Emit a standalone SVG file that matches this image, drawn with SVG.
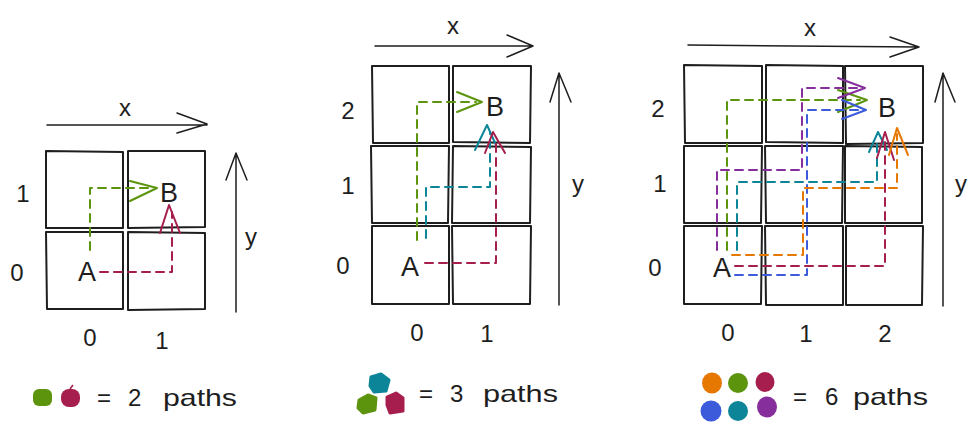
<svg xmlns="http://www.w3.org/2000/svg" width="978" height="431" viewBox="0 0 978 431">
<style>
.cell{fill:none;stroke:#1e1e1e;stroke-width:2;stroke-linejoin:round}
.ax{fill:none;stroke:#1e1e1e;stroke-width:1.5;stroke-linecap:round;stroke-linejoin:round}
.lbl{font-family:"Liberation Sans",Arial,sans-serif;font-size:24px;fill:#1e1e1e;text-anchor:middle}
.pt{font-family:"Liberation Sans",Arial,sans-serif;font-size:27px;fill:#1e1e1e;text-anchor:middle}
.leg{font-family:"Liberation Sans",Arial,sans-serif;font-size:24px;fill:#1e1e1e}
.p{fill:none;stroke-width:2;stroke-dasharray:8 6;stroke-linecap:round;stroke-linejoin:round}
.h{fill:none;stroke-width:2;stroke-linecap:round;stroke-linejoin:round}
.g{stroke:#5c940d}.r{stroke:#a61e4d}.t{stroke:#0c8599}.o{stroke:#e67700}.b{stroke:#3b5bdb}.v{stroke:#862e9c}
.blob{stroke-width:3;stroke-linejoin:round}
</style>
<rect width="978" height="431" fill="#ffffff"/>

<!-- Left grid -->
<g id="grid1">
<g id="g1-c01"><path class="cell" d="M46 151 L123 152 L123 228 L46 228 Z"/></g>
<g id="g1-c11"><path class="cell" d="M128 151 L205 151 L205 227 L128 228 Z"/></g>
<g id="g1-c00"><path class="cell" d="M46 232 L123 232 L123 309 L47 309 Z"/></g>
<g id="g1-c10"><path class="cell" d="M128 232 L205 233 L205 309 L128 310 Z"/></g>
<g id="g1-axes">
<path class="ax" d="M47 125 L207 125 M177 113 L207 124 L177 133"/>
<path class="ax" d="M236 312 L236 153 M226 180 L236 153 L247 180"/>
<text class="lbl" x="125" y="116">x</text>
<text class="lbl" x="251" y="245">y</text>
<text class="lbl" x="23" y="202">1</text>
<text class="lbl" x="17" y="281">0</text>
<text class="lbl" x="90" y="346">0</text>
<text class="lbl" x="162" y="349">1</text>
</g>
<g id="g1-A"><text class="pt" x="87" y="281">A</text></g>
<g id="g1-B"><text class="pt" x="169" y="202">B</text></g>
</g>

<!-- Middle grid -->
<g id="grid2">
<g id="g2-c02"><path class="cell" d="M372 66 L449 66 L449 143 L373 143 Z"/></g>
<g id="g2-c12"><path class="cell" d="M453 66 L531 66 L530 143 L453 142 Z"/></g>
<g id="g2-c01"><path class="cell" d="M371 146 L449 146 L448 223 L372 223 Z"/></g>
<g id="g2-c11"><path class="cell" d="M453 146 L531 147 L530 223 L452 223 Z"/></g>
<g id="g2-c00"><path class="cell" d="M372 226 L449 226 L449 304 L372 304 Z"/></g>
<g id="g2-c10"><path class="cell" d="M452 226 L531 226 L530 304 L453 304 Z"/></g>
<g id="g2-axes">
<path class="ax" d="M375 46 L533 46 M507 35 L533 46 L507 57"/>
<path class="ax" d="M559 305 L559 73 M550 102 L559 73 L571 102"/>
<text class="lbl" x="453" y="34">x</text>
<text class="lbl" x="578" y="192">y</text>
<text class="lbl" x="348" y="119">2</text>
<text class="lbl" x="348" y="194">1</text>
<text class="lbl" x="343" y="274">0</text>
<text class="lbl" x="417" y="341">0</text>
<text class="lbl" x="487" y="342">1</text>
</g>
<g id="g2-A"><text class="pt" x="410" y="276">A</text></g>
<g id="g2-B"><text class="pt" x="495" y="116">B</text></g>
</g>

<!-- Right grid -->
<g id="grid3">
<g id="g3-c02"><path class="cell" d="M684 65 L762 66 L762 143 L685 143 Z"/></g>
<g id="g3-c12"><path class="cell" d="M766 65 L843 66 L843 143 L766 142 Z"/></g>
<g id="g3-c22"><path class="cell" d="M845 66 L923 66 L923 143 L846 144 Z"/></g>
<g id="g3-c01"><path class="cell" d="M684 146 L762 146 L761 223 L684 223 Z"/></g>
<g id="g3-c11"><path class="cell" d="M765 146 L843 146 L842 223 L766 223 Z"/></g>
<g id="g3-c21"><path class="cell" d="M845 146 L922 147 L922 223 L845 223 Z"/></g>
<g id="g3-c00"><path class="cell" d="M684 226 L762 226 L761 304 L684 304 Z"/></g>
<g id="g3-c10"><path class="cell" d="M765 226 L843 226 L843 305 L766 305 Z"/></g>
<g id="g3-c20"><path class="cell" d="M846 226 L923 226 L922 305 L846 305 Z"/></g>
<g id="g3-axes">
<path class="ax" d="M688 45 L919 47 M890 37 L919 47 L890 57"/>
<path class="ax" d="M943 306 L943 73 M935 102 L943 73 L955 102"/>
<text class="lbl" x="810" y="36">x</text>
<text class="lbl" x="961" y="192">y</text>
<text class="lbl" x="658" y="117">2</text>
<text class="lbl" x="660" y="192">1</text>
<text class="lbl" x="655" y="276">0</text>
<text class="lbl" x="728" y="341">0</text>
<text class="lbl" x="806" y="342">1</text>
<text class="lbl" x="885" y="342">2</text>
</g>
<g id="g3-A"><text class="pt" x="722" y="277">A</text></g>
<g id="g3-B"><text class="pt" x="887" y="117">B</text></g>
</g>

<!-- Connectors -->
<g id="connectors">
<path class="p g" d="M90 250 L90 188 L150 188"/>
<path class="h g" d="M130 181 L157 188 L130 201"/>
<path class="p r" d="M100 272 L172 272 L172 212"/>
<path class="h r" d="M160 233 L169 205 L180 233"/>

<path class="p g" d="M417 240 L417 102 L476 102"/>
<path class="h g" d="M457 92 L482 102 L457 112"/>
<path class="p t" d="M426 238 L426 187 L490 187 L490 132"/>
<path class="h t" d="M475 150 L487 125 L496 145"/>
<path class="p r" d="M425 263 L496 263 L496 138"/>
<path class="h r" d="M485 153 L493 132 L505 153"/>

<path class="p g" d="M727 250 L727 100 L860 100"/>
<path class="h g" d="M838 90 L867 100 L838 112"/>
<path class="p v" d="M717 250 L717 170 L802 170 L802 88 L858 88"/>
<path class="h v" d="M838 78 L865 88 L838 98"/>
<path class="p b" d="M735 275 L807 275 L807 110 L860 110"/>
<path class="h b" d="M842 100 L866 110 L842 119"/>
<path class="p t" d="M737 250 L737 182 L877 182 L877 138"/>
<path class="h t" d="M869 152 L878 132 L887 150"/>
<path class="p r" d="M735 266 L885 266 L885 138"/>
<path class="h r" d="M877 158 L885 132 L894 160"/>
<path class="p o" d="M732 255 L803 255 L803 188 L897 188 L897 134"/>
<path class="h o" d="M889 155 L897 128 L908 155"/>
</g>

<!-- Legends -->
<g id="legend1">
<rect x="33" y="389" width="19" height="17" rx="6" fill="#5c940d"/>
<rect x="61" y="389" width="19" height="18" rx="8" fill="#a61e4d"/>
<path d="M70 389 L73 385" stroke="#a61e4d" stroke-width="1.5"/>
<text class="leg" x="97" y="406">=</text>
<text class="leg" x="128" y="406">2</text>
<text class="leg" x="163" y="406" textLength="74" lengthAdjust="spacingAndGlyphs">paths</text>
</g>
<g id="legend2">
<path class="blob" d="M371 377 L381 374 L389 380 L386 391 L374 392 L370 386 Z" fill="#0c8599" stroke="#0c8599"/>
<path class="blob" d="M359 400 L368 395 L376 398 L375 410 L363 413 L358 408 Z" fill="#5c940d" stroke="#5c940d"/>
<path class="blob" d="M387 397 L396 393 L403 398 L403 411 L390 413 L387 405 Z" fill="#a61e4d" stroke="#a61e4d"/>
<text class="leg" x="419" y="402">=</text>
<text class="leg" x="450" y="402">3</text>
<text class="leg" x="483" y="402" textLength="75" lengthAdjust="spacingAndGlyphs">paths</text>
</g>
<g id="legend3">
<ellipse cx="712" cy="383" rx="10" ry="10.5" fill="#e67700"/>
<ellipse cx="738" cy="383" rx="10" ry="10" fill="#5c940d"/>
<ellipse cx="765" cy="382" rx="9.5" ry="10" fill="#a61e4d"/>
<ellipse cx="711" cy="411" rx="10.5" ry="10.5" fill="#3b5bdb"/>
<ellipse cx="738" cy="411" rx="10" ry="10" fill="#0c8599"/>
<ellipse cx="767" cy="407" rx="10" ry="10.5" fill="#862e9c"/>
<text class="leg" x="793" y="405">=</text>
<text class="leg" x="825" y="405">6</text>
<text class="leg" x="853" y="405" textLength="75" lengthAdjust="spacingAndGlyphs">paths</text>
</g>
</svg>
